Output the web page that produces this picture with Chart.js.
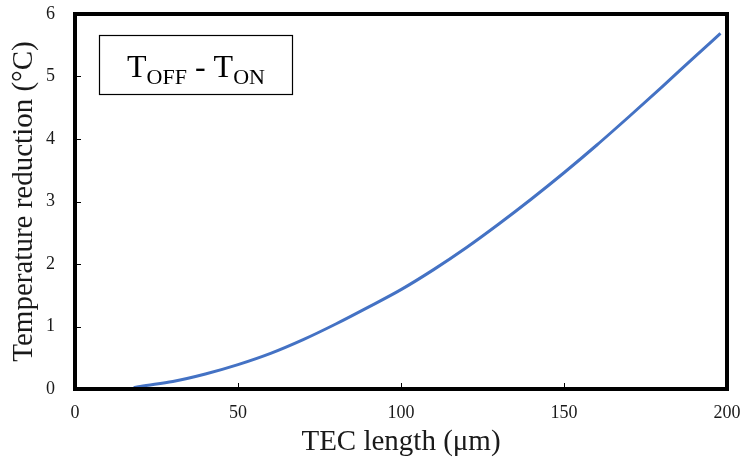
<!DOCTYPE html>
<html>
<head>
<meta charset="utf-8">
<script src="https://cdn.jsdelivr.net/npm/chart.js@4/dist/chart.umd.min.js"></script>
<style>
  html, body { margin: 0; padding: 0; background: #fff; }
  canvas { display: block; }
</style>
</head>
<body>
<canvas id="chart" width="747" height="471"></canvas>
<script>
// TEC length (um) and the temperature reduction it gives (degC)
const tecLength = [18, 20, 30, 40, 50, 60, 70, 80, 90, 100, 110, 120, 130, 140, 150, 160, 170, 180, 190, 198];
const tempReduction = [0.02, 0.04, 0.12, 0.24, 0.39, 0.57, 0.79, 1.04, 1.31, 1.59, 1.91, 2.26, 2.64, 3.04, 3.46, 3.90, 4.36, 4.83, 5.31, 5.69];

const xTitle = "TEC length (\u03bcm)";
const yTitle = "Temperature reduction (\u00b0C)";
const labelParts = [["T", false], ["OFF", true], [" - ", false], ["T", false], ["ON", true]];

const SERIF = "'Liberation Serif', 'Times New Roman', serif";

// thick frame, inward ticks and the label box
const framePlugin = {
  id: "frame",
  afterDraw(chart) {
    const { ctx, chartArea: a, scales } = chart;
    ctx.save();

    ctx.strokeStyle = "#000";
    ctx.lineWidth = 1;
    ctx.beginPath();
    [50, 100, 150].forEach(v => {
      const x = Math.round(scales.x.getPixelForValue(v)) + 0.5;
      ctx.moveTo(x, a.bottom);
      ctx.lineTo(x, a.bottom - 6);
    });
    [1, 2, 3, 4, 5].forEach(v => {
      const y = Math.round(scales.y.getPixelForValue(v)) + 0.5;
      ctx.moveTo(a.left, y);
      ctx.lineTo(a.left + 6, y);
    });
    ctx.stroke();

    ctx.lineWidth = 4;
    ctx.lineJoin = "miter";
    ctx.strokeRect(a.left, a.top, a.right - a.left, a.bottom - a.top);

    // label box
    const bx = a.left + 24.5, by = a.top + 21.5, bw = 193, bh = 59;
    ctx.lineWidth = 1.2;
    ctx.strokeRect(bx, by, bw, bh);

    const big = "32px " + SERIF, small = "22px " + SERIF;
    let total = 0;
    labelParts.forEach(([t, sub]) => {
      ctx.font = sub ? small : big;
      total += ctx.measureText(t).width;
    });
    let x = bx + (bw - total) / 2;
    const base = by + 41;
    ctx.fillStyle = "#000";
    ctx.textBaseline = "alphabetic";
    ctx.textAlign = "left";
    labelParts.forEach(([t, sub]) => {
      ctx.font = sub ? small : big;
      ctx.fillText(t, x, sub ? base + 7 : base);
      x += ctx.measureText(t).width;
    });

    ctx.restore();
  }
};

new Chart(document.getElementById("chart"), {
  type: "line",
  data: {
    datasets: [{
      data: tecLength.map((x, i) => ({ x, y: tempReduction[i] })),
      borderColor: "#4472C4",
      borderWidth: 3,
      pointRadius: 0,
      cubicInterpolationMode: "monotone",
      fill: false
    }]
  },
  options: {
    responsive: false,
    animation: false,
    layout: { padding: { top: 14, right: 20, left: 0, bottom: 0 } },
    plugins: {
      legend: { display: false },
      tooltip: { enabled: false }
    },
    scales: {
      x: {
        type: "linear",
        min: 0,
        max: 200,
        afterFit(scale) {
          scale.height = 82;
          scale.paddingLeft = 0;
          scale.paddingRight = 0;
        },
        grid: { display: false, drawTicks: false },
        border: { display: false },
        ticks: {
          stepSize: 50,
          padding: 13,
          color: "#1a1a1a",
          font: { family: SERIF, size: 18 }
        },
        title: {
          display: true,
          text: xTitle,
          color: "#1a1a1a",
          font: { family: SERIF, size: 29 },
          padding: { top: 0, bottom: 11 }
        }
      },
      y: {
        min: 0,
        max: 6,
        afterFit(scale) {
          scale.width = 75;
          scale.paddingTop = 0;
          scale.paddingBottom = 0;
        },
        grid: { display: false, drawTicks: false },
        border: { display: false },
        ticks: {
          stepSize: 1,
          padding: 20,
          color: "#1a1a1a",
          font: { family: SERIF, size: 18 }
        },
        title: {
          display: true,
          text: yTitle,
          color: "#1a1a1a",
          font: { family: SERIF, size: 29 },
          padding: { top: 7, bottom: 0 }
        }
      }
    }
  },
  plugins: [framePlugin]
});
</script>
</body>
</html>
